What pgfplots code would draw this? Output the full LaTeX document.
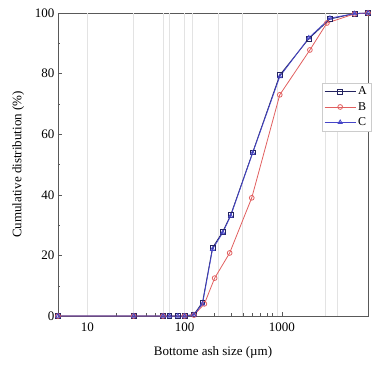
\documentclass[border=0pt]{standalone}
\usepackage{pgfplots}
\pgfplotsset{compat=1.18}
\usepackage{fontspec}
\setmainfont{Liberation Serif}

\definecolor{serA}{RGB}{35,35,95}
\definecolor{serB}{RGB}{225,95,95}
\definecolor{serC}{RGB}{70,70,200}

\begin{document}
\begin{tikzpicture}
\begin{axis}[
  at={(0,0)}, anchor=south west,
  scale only axis, width=310pt, height=303pt,
  xmode=log, xmin=5, xmax=7700,
  ymin=0, ymax=100,
  xtick={10,100,1000}, xticklabels={10,100,1000},
  ytick={0,20,40,60,80,100},
  minor y tick num=1,
  tick align=inside,
  xtick pos=bottom, ytick pos=left,
  major tick length=4pt, minor tick length=2.5pt,
  axis line style={gray!70!black, line width=0.8pt},
  tick style={gray!70!black},
  extra x ticks={10,30,60,70,100,121,220,395,890,2770,3690},
  extra x tick labels={},
  extra x tick style={grid=major, major grid style={gray!22, line width=0.5pt}, tick style={draw=none}},
  /pgf/number format/assume math mode=true,
  ticklabel style={font=\fontsize{13}{15}\selectfont},
  xticklabel style={yshift=-3pt},
  label style={font=\fontsize{13}{15}\selectfont},
  xlabel={Bottome ash size (\textmu m)},
  ylabel={Cumulative distribution (\%)},
  xlabel style={yshift=-8pt},
  ylabel style={yshift=4pt},
  legend style={at={(1.01,0.77)}, anchor=north east, draw=gray!40,
    font=\fontsize{12}{14}\selectfont, row sep=2pt, inner sep=2pt},
  legend cell align=left,
  legend image code/.code={%
    \draw[mark repeat=2,mark phase=2] plot coordinates {(0cm,0cm) (0.55cm,0cm) (1.1cm,0cm)};},
  clip=false,
]
\addplot[serA, line width=0.8pt, mark=square, mark size=2.4pt, mark options={solid, fill=white}]
  coordinates {(5,0) (30,0) (60,0) (70,0) (85,0) (100,0) (125,0.5) (153,4.5) (194,22.5)
    (247,27.8) (298,33.3) (502,54) (953,79.5) (1897,91.5) (3126,98) (5600,99.8) (7700,100)};
\addlegendentry{A}
\addplot[serB, line width=0.8pt, mark=o, mark size=2.4pt, mark options={solid, fill=white}]
  coordinates {(5,0) (30,0) (60,0) (100,0) (125,0.3) (160,4.0) (204,12.5) (291,20.8)
    (491,39) (953,73) (1945,87.8) (2911,96.7) (5600,99.7) (7700,100)};
\addlegendentry{B}
\addplot[serC, line width=0.8pt, mark=triangle, mark size=2.4pt, mark options={solid, fill=white}]
  coordinates {(5,0) (30,0) (60,0) (70,0) (85,0) (100,0) (125,0.4) (153,4.0) (194,22.0)
    (247,27.5) (298,33.0) (502,53.8) (953,79.0) (1897,91.8) (3126,98.3) (5600,99.8) (7700,100)};
\addlegendentry{C}
\end{axis}
\path[use as bounding box] (-58pt,-51pt) rectangle (315pt,316pt);
\end{tikzpicture}
\end{document}
